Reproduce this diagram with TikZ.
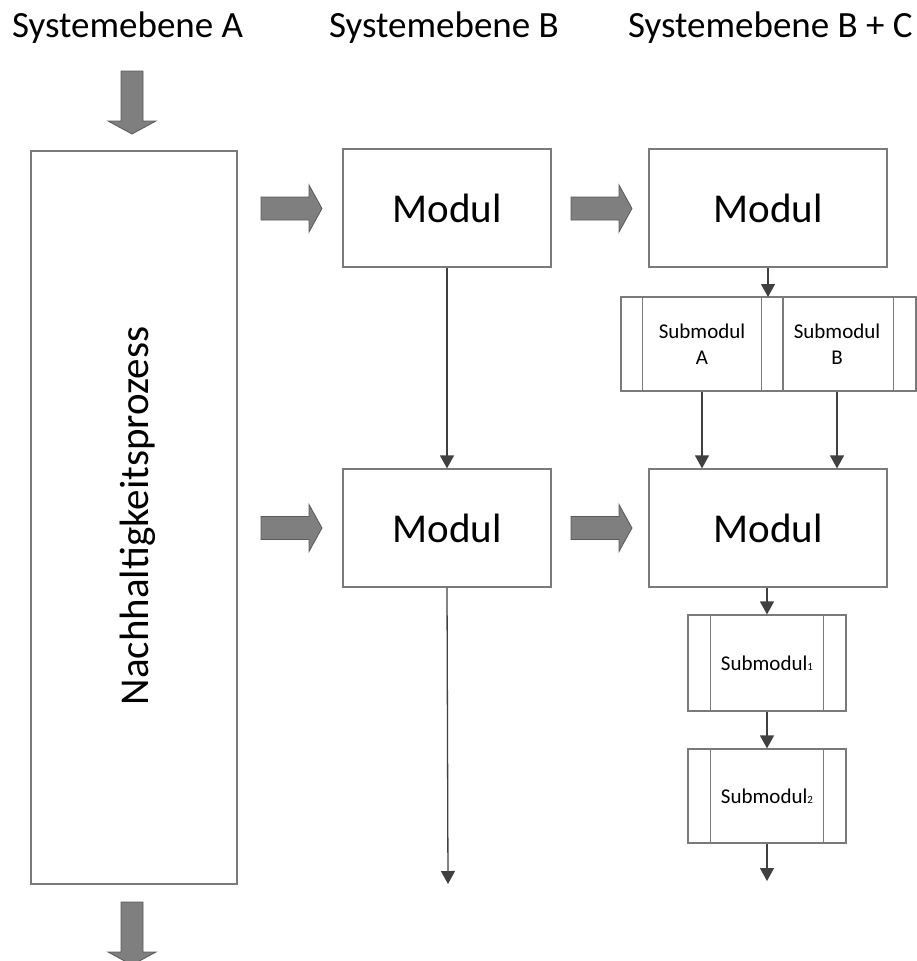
\documentclass[tikz,border=0pt]{standalone}
\usepackage{fontspec}
\setmainfont{Carlito}
\usetikzlibrary{arrows.meta}
\definecolor{boxline}{HTML}{7A7A7A}
\definecolor{conline}{HTML}{404040}
\definecolor{bafill}{HTML}{7F7F7F}
\definecolor{badraw}{HTML}{5A5A5A}
\newcommand\smallsub[1]{{\fontsize{11}{11}\selectfont #1}}
\tikzset{
  box/.style={draw=boxline, line width=1.2pt, fill=white, inner sep=0pt, minimum width=#1},
  bigbox/.style={box=208pt, minimum height=118pt, font=\fontsize{41}{48}\selectfont},
  subbox/.style={box=#1, minimum height=94pt, font=\fontsize{21}{26}\selectfont, align=center},
  con/.style={draw=conline, line width=1.3pt, -{Triangle[width=14pt,length=13pt]}},
  barrow/.style={fill=bafill, draw=badraw, line width=0.8pt},
  header/.style={anchor=base west, inner sep=0pt, font=\fontsize{37}{44}\selectfont},
  rarrow/.pic={\filldraw[barrow] (0,-11.5) -- (48,-11.5) -- (48,-23.5) -- (61,0) -- (48,23.5) -- (48,11.5) -- (0,11.5) -- cycle;},
  darrow/.pic={\filldraw[barrow] (-11,0) -- (-11,50) -- (-24,50) -- (0,63) -- (24,50) -- (11,50) -- (11,0) -- cycle;}
}
\newcommand\strips[2]{%
  \draw[boxline, line width=1.2pt] ([xshift=#2]#1.north west) -- ([xshift=#2]#1.south west);
  \draw[boxline, line width=1.2pt] ([xshift=-#2]#1.north east) -- ([xshift=-#2]#1.south east);}
\begin{document}
\begin{tikzpicture}[x=1pt, y=-1pt]
\useasboundingbox (0,0) rectangle (917,961);
% headers
\node[header] (hA) at (12,37) {Systemebene A};
\node[header] (hB) at (329,37) {Systemebene B};
\node[header] (hC) at (628,37) {Systemebene B + C};
% left process box
\node[box=206pt, minimum height=733pt] (proc) at (134,517.5) {};
\node[rotate=90, anchor=base, inner sep=0pt, font=\fontsize{41}{48}\selectfont] (proctext) at (148,516) {Nachhaltigkeitsprozess};
% block arrows
\pic at (132,71) {darrow};
\pic at (132,902) {darrow};
\pic at (261,208.5) {rarrow};
\pic at (261,528) {rarrow};
\pic at (571,208.5) {rarrow};
\pic at (571,528) {rarrow};
% modules
\node[bigbox] (b1) at (447,208) {Modul};
\node[bigbox] (b2) at (447,528) {Modul};
\node[bigbox, minimum width=238pt] (c1) at (768,208) {Modul};
\node[bigbox, minimum width=238pt] (c2) at (768,528) {Modul};
% submodules
\node[subbox=158pt] (sb) at (837,344) {Submodul\\B};
\strips{sb}{23pt}
\node[subbox=162pt] (sa) at (702,344) {Submodul\\A};
\strips{sa}{22pt}
\node[subbox=158pt, minimum height=96pt] (s1) at (767,663) {Submodul\smallsub{1}};
\strips{s1}{23pt}
\node[subbox=158pt] (s2) at (767,796) {Submodul\smallsub{2}};
\strips{s2}{23pt}
% connector endpoints
\coordinate (c1in) at (768,297);
\coordinate (bend) at (448,884);
\coordinate (s2end) at (767,881);
% connectors
\draw[con] (b1.south) -- (b2.north);
\draw[con] (b2.south) -- (bend);
\draw[con] (c1.south) -- (c1in);
\draw[con] (sa.south) -- (sa.south |- c2.north);
\draw[con] (sb.south) -- (sb.south |- c2.north);
\draw[con] (s1.north |- c2.south) -- (s1.north);
\draw[con] (s1.south) -- (s2.north);
\draw[con] (s2.south) -- (s2end);
\end{tikzpicture}
\end{document}
